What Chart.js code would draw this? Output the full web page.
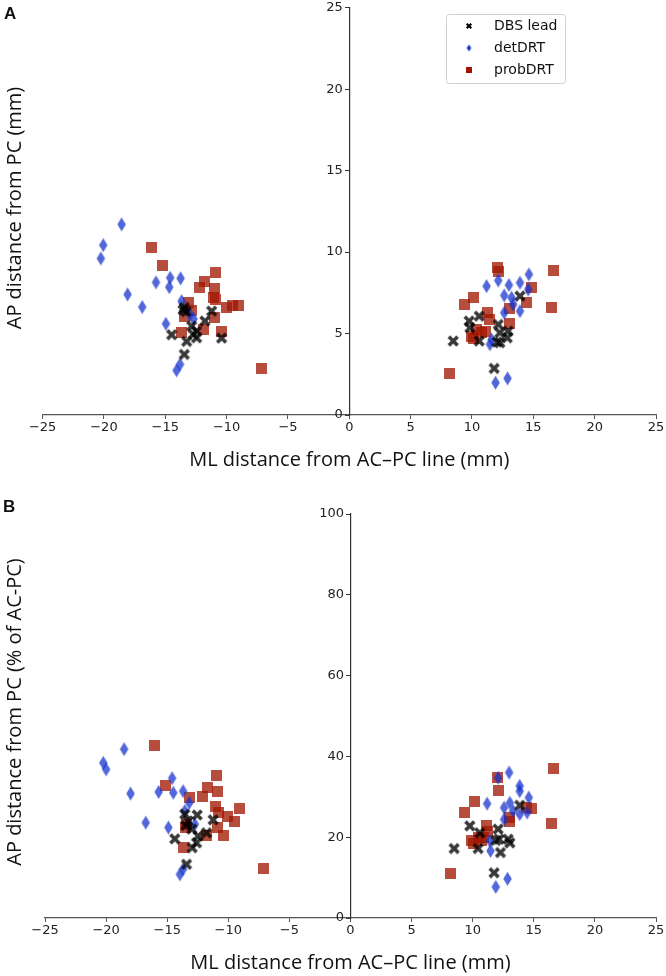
<!DOCTYPE html>
<html>
<head>
<meta charset="utf-8">
<script src="https://cdn.jsdelivr.net/npm/chart.js@4"></script>
<style>
  body { margin: 0; background: #fff; }
  #wrap { position: relative; width: 666px; height: 976px; overflow: hidden; }
  canvas { position: absolute; left: 0; }
  .lbl { position: absolute; font-family: "Liberation Sans", Arial, sans-serif; font-weight: bold; font-size: 17px; color: #111; }
  .ytitle { position: absolute; font-family: "Open Sans", sans-serif; font-size: 20px; color: #111;
            white-space: nowrap; transform: translate(-50%, -50%) rotate(-90deg); }
</style>
</head>
<body>
<div id="wrap">
  <canvas id="chartA" width="666" height="488" style="top:0"></canvas>
  <canvas id="chartB" width="666" height="488" style="top:488px"></canvas>
  <div class="lbl" style="left:4px;top:4px">A</div>
  <div class="lbl" style="left:3px;top:497px">B</div>
  <div class="ytitle" style="left:13px;top:208px">AP distance from PC (mm)</div>
  <div class="ytitle" style="left:13px;top:712px">AP distance from PC (% of AC-PC)</div>
</div>
<script>
// Panel A: AP distance in mm
let aLeadX = [-13.45, -13.3, -13.55, -11.22, -11.77, -12.85, -12.45, -14.48, -13.26, -12.45, -12.72, -10.41, -13.45,
              8.47, 9.77, 10.59, 9.83, 10.59, 12.14, 12.95, 12.27, 12.27, 12.05, 12.87, 13.91, 11.81];
let aLeadY = [6.6, 6.35, 6.45, 6.38, 5.77, 5.46, 5.15, 4.93, 4.52, 4.74, 4.95, 4.72, 3.72,
              4.54, 5.77, 6.07, 5.36, 4.54, 5.56, 5.15, 5.05, 4.44, 4.48, 4.74, 7.3, 2.86];
let aDetX = [-18.56, -20.06, -20.25, -18.07, -16.88, -15.76, -14.6, -14.68, -13.75, -14.95, -13.67, -12.99, -12.7, -13.8, -14.08,
             11.19, 12.14, 13.01, 13.91, 14.64, 14.58, 12.63, 13.23, 13.36, 13.91, 12.63, 11.46, 11.6, 11.92, 12.9];
let aDetY = [11.7, 10.43, 9.61, 7.4, 6.63, 8.14, 8.42, 7.85, 8.39, 5.6, 6.99, 6.18, 5.9, 3.11, 2.74,
             7.91, 8.26, 7.98, 8.12, 8.63, 7.71, 7.34, 7.2, 6.79, 6.38, 6.28, 4.34, 4.64, 1.98, 2.25];
let aProbX = [-16.11, -15.22, -10.9, -11.77, -12.18, -10.98, -11.03, -10.87, -10.0, -9.51, -9.05, -13.13, -12.85, -13.45, -10.95, -13.67, -11.85, -10.41, -7.15,
              12.05, 12.19, 16.62, 14.86, 10.1, 9.37, 14.45, 16.49, 13.09, 11.27, 11.4, 13.09, 10.38, 10.78, 11.1, 9.97, 10.1, 8.2];
let aProbY = [10.27, 9.2, 8.75, 8.18, 7.85, 7.77, 7.2, 7.07, 6.58, 6.75, 6.75, 6.89, 6.42, 6.07, 6.01, 5.05, 5.26, 5.15, 2.84,
              9.04, 8.83, 8.9, 7.85, 7.2, 6.79, 6.89, 6.58, 6.54, 6.28, 5.87, 5.6, 5.26, 5.05, 5.15, 4.85, 4.7, 2.53];

// Panel B: AP distance in % of AC-PC
let bLeadX = [-13.56, -12.55, -11.24, -13.48, -14.38, -11.78, -12.47, -12.6, -12.96, -13.42, -13.3, -13.0,
              8.48, 9.76, 10.58, 10.44, 12.08, 12.16, 12.9, 13.04, 12.27, 11.89, 13.85, 11.75];
let bLeadY = [25.7, 25.5, 24.3, 22.9, 19.6, 21.1, 20.3, 18.6, 17.4, 13.3, 24.0, 22.0,
              17.2, 22.8, 21.1, 17.2, 22.0, 19.5, 19.5, 18.6, 16.2, 19.2, 27.9, 11.2];
let bDetX = [-18.53, -20.23, -20.0, -18.0, -15.7, -14.6, -14.5, -13.7, -13.2, -13.56, -16.76, -14.9, -12.74, -13.96, -13.7,
             12.98, 12.08, 13.85, 13.85, 14.59, 11.18, 13.04, 12.57, 13.3, 13.85, 14.45, 12.57, 11.4, 11.46, 11.89, 12.85];
let bDetY = [41.8, 38.4, 36.8, 30.8, 31.2, 34.6, 31.0, 31.4, 28.5, 26.5, 23.6, 22.4, 23.2, 10.8, 12.1,
             36.0, 34.7, 32.7, 31.4, 29.8, 28.3, 28.5, 27.3, 26.5, 25.7, 26.1, 24.4, 19.1, 16.6, 7.7, 9.7];
let bProbX = [-16.07, -15.14, -10.95, -11.73, -10.88, -12.14, -13.15, -11.02, -9.06, -10.83, -10.1, -9.52, -10.88, -13.42, -13.5, -11.78, -10.42, -13.7, -7.15,
              12.0, 16.58, 12.14, 10.12, 9.36, 14.4, 14.81, 16.45, 13.04, 13.04, 11.13, 11.21, 10.44, 9.9, 10.72, 10.04, 10.9, 8.2];
let bProbY = [42.7, 32.9, 35.3, 32.4, 31.2, 30.0, 29.8, 27.5, 27.1, 26.2, 25.2, 24.0, 22.4, 23.2, 22.4, 20.3, 20.5, 17.4, 12.2,
              34.7, 37.0, 31.6, 28.8, 26.1, 27.3, 27.2, 23.4, 24.0, 24.8, 22.8, 21.5, 19.9, 19.1, 19.1, 18.4, 20.0, 11.0];

let xTicksLabel = v => (v < 0 ? '\u2212' + Math.abs(v) : String(v));
// y labels sit on the centred axis; the trailing en space keeps them off the spine
let yTicksLabel = v => v + '\u2002';

function pts(xs, ys) { return xs.map((x, i) => ({x: x, y: ys[i]})); }

// marker images (filled X, thin diamond, square), like the matplotlib ones
function crossImg(L, w, color) {
  const s = Math.ceil((L + w) * 1.5) * 2;
  const c = document.createElement('canvas'); c.width = s; c.height = s;
  const g = c.getContext('2d');
  const raw = [[w, w], [w, L], [-w, L], [-w, w], [-L, w], [-L, -w], [-w, -w], [-w, -L], [w, -L], [w, -w], [L, -w], [L, w]];
  const r = Math.SQRT1_2;
  g.beginPath();
  raw.forEach(([px, py], i) => {
    const qx = s / 2 + (px - py) * r, qy = s / 2 + (px + py) * r;
    i ? g.lineTo(qx, qy) : g.moveTo(qx, qy);
  });
  g.closePath(); g.fillStyle = color; g.fill();
  return c;
}
function diamondImg(w, h, color) {
  const c = document.createElement('canvas'); c.width = Math.ceil(w) + 2; c.height = Math.ceil(h) + 2;
  const g = c.getContext('2d'); const cx = c.width / 2, cy = c.height / 2;
  g.beginPath(); g.moveTo(cx, cy - h / 2); g.lineTo(cx + w / 2, cy); g.lineTo(cx, cy + h / 2); g.lineTo(cx - w / 2, cy); g.closePath();
  g.fillStyle = color; g.fill();
  return c;
}
function squareImg(s, color) {
  const c = document.createElement('canvas'); c.width = s; c.height = s;
  const g = c.getContext('2d'); g.fillStyle = color; g.fillRect(0, 0, s, s);
  return c;
}

const leadCol = 'rgba(0,0,0,0.78)', detCol = 'rgba(20,50,205,0.74)', probCol = 'rgba(160,22,0,0.76)';
const leadMark = crossImg(6.2, 1.8, leadCol);
const detMark = diamondImg(8.5, 14, detCol);
const probMark = squareImg(11, probCol);

const legendPlugin = {
  id: 'boxLegend',
  afterDraw(chart) {
    if (chart.canvas.id !== 'chartA') return;
    const ctx = chart.ctx;
    ctx.save();
    ctx.beginPath();
    ctx.roundRect(446.5, 14.5, 119, 69, 3);
    ctx.fillStyle = 'rgba(255,255,255,0.85)'; ctx.fill();
    ctx.strokeStyle = '#cfcfcf'; ctx.lineWidth = 1; ctx.stroke();
    const items = [['DBS lead', crossImg(3.2, 1.1, '#000')], ['detDRT', diamondImg(4.5, 7, 'rgb(15,45,200)')], ['probDRT', squareImg(6, 'rgb(160,20,5)')]];
    ctx.font = '14px "DejaVu Sans"'; ctx.fillStyle = '#111'; ctx.textBaseline = 'middle';
    items.forEach(([t, img], i) => {
      const y = 26 + i * 22;
      ctx.drawImage(img, 469 - img.width / 2, y - img.height / 2);
      ctx.fillText(t, 494, y);
    });
    ctx.restore();
  }
};

function makeChart(id, sets, yMax, yStep, pad) {
  const ctx = document.getElementById(id).getContext('2d');
  return new Chart(ctx, {
    type: 'scatter',
    data: {
      datasets: [
        {label: 'DBS lead', data: pts(sets[0], sets[1]), pointStyle: leadMark},
        {label: 'detDRT', data: pts(sets[2], sets[3]), pointStyle: detMark},
        {label: 'probDRT', data: pts(sets[4], sets[5]), pointStyle: probMark}
      ]
    },
    options: {
      responsive: false,
      animation: false,
      layout: {padding: pad},
      plugins: {legend: {display: false}, tooltip: {enabled: false}},
      scales: {
        x: {
          type: 'linear', min: -25, max: 25,
          ticks: {stepSize: 5, callback: xTicksLabel, color: '#222', padding: 1, font: {family: 'DejaVu Sans', size: 13}},
          grid: {display: true, drawOnChartArea: false, drawTicks: true, tickLength: 4, color: '#555'},
          border: {display: true, color: '#555', width: 1.2},
          title: {display: true, text: 'ML distance from AC\u2013PC line (mm)', color: '#111',
                  font: {family: 'Open Sans', size: 20}, padding: {top: 11.8, bottom: 0}}
        },
        y: {
          type: 'linear', min: 0, max: yMax, position: {x: 0},
          ticks: {stepSize: yStep, callback: yTicksLabel, color: '#222', padding: 0, font: {family: 'DejaVu Sans', size: 13}},
          grid: {display: true, drawOnChartArea: false, drawTicks: true, tickLength: 4, color: '#333'},
          border: {display: true, color: '#333', width: 1.2}
        }
      }
    },
    plugins: [legendPlugin]
  });
}

function createCharts() {
  makeChart('chartA', [aLeadX, aLeadY, aDetX, aDetY, aProbX, aProbY], 25, 5, {left: 42.6, right: 10, top: 6.5, bottom: 15.6});
  makeChart('chartB', [bLeadX, bLeadY, bDetX, bDetY, bProbX, bProbY], 100, 20, {left: 45, right: 10, top: 26, bottom: 0.6});
}

window.onload = createCharts;
</script>
</body>
</html>
